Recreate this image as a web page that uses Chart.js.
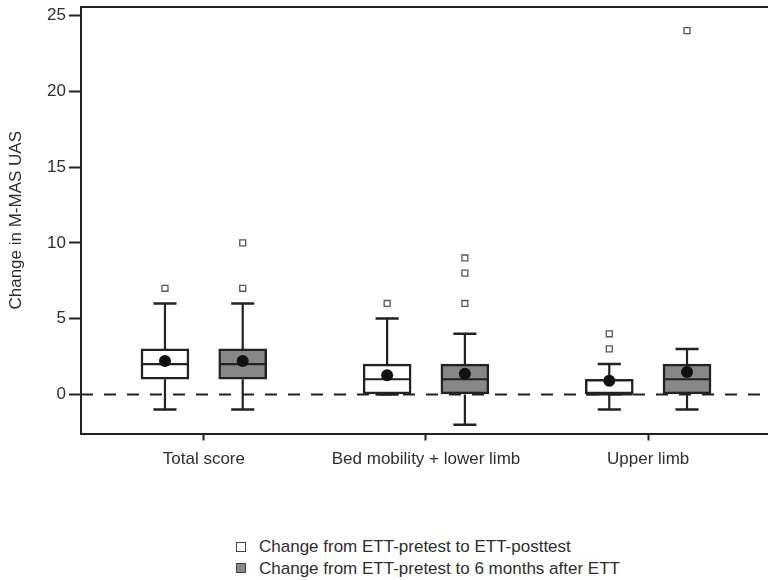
<!DOCTYPE html>
<html>
<head>
<meta charset="utf-8">
<script src="https://cdn.jsdelivr.net/npm/chart.js@4.4.1/dist/chart.umd.min.js"></script>
<style>
  html, body { margin: 0; padding: 0; background: #fff; width: 768px; height: 580px; overflow: hidden; }
  #wrap { position: absolute; left: 0; top: 0; width: 773px; height: 500px; }
  #legend { position: absolute; left: 236px; top: 536px; font-family: 'Liberation Sans', Arial, sans-serif; font-size: 17px; line-height: 21.5px; color: #2e2e2e; }
  .row { display: flex; align-items: center; height: 21.5px; }
  .sw { width: 8px; height: 8px; border: 1.3px solid #444; margin-right: 13px; }
</style>
</head>
<body>
<div id="wrap"><canvas id="chart"></canvas></div>
<div id="legend"></div>
<script>
/* ── data ── */
const categories = ['Total score', 'Bed mobility + lower limb', 'Upper limb'];
const seriesNames = ['Change from ETT-pretest to ETT-posttest', 'Change from ETT-pretest to 6 months after ETT'];
const yTicks = [0, 5, 10, 15, 20, 25];

// ETT-pretest -> ETT-posttest
const postLow    = [-1, 0, -1];
const postQ1     = [1, 0, 0];
const postMedian = [2, 1, 0];
const postQ3     = [3, 2, 1];
const postHigh   = [6, 5, 2];
const postMean   = [2.2, 1.27, 0.9];
const postOut    = [[7], [6], [3, 4]];

// ETT-pretest -> 6 months after ETT
const sixLow    = [-1, -2, -1];
const sixQ1     = [1, 0, 0];
const sixMedian = [2, 1, 1];
const sixQ3     = [3, 2, 2];
const sixHigh   = [6, 4, 3];
const sixMean   = [2.2, 1.36, 1.47];
const sixOut    = [[7, 10], [6, 8, 9], [24]];

/* ── style ── */
const INK = '#222';
const TXT = '#2e2e2e';
const FILLS = ['#ffffff', '#878787'];
const X_MIN = 0.447, X_MAX = 3.535;
const Y_MIN = -2.58, Y_MAX = 25.56;
const OFF = 0.175;     // half distance between the two boxes
const HALF_BOX = 0.105;
const HALF_CAP = 0.052;

Chart.defaults.font.family = "'Liberation Sans', Arial, sans-serif";
Chart.defaults.color = TXT;

const series = [
  { low: postLow, q1: postQ1, med: postMedian, q3: postQ3, high: postHigh, mean: postMean, out: postOut },
  { low: sixLow,  q1: sixQ1,  med: sixMedian,  q3: sixQ3,  high: sixHigh,  mean: sixMean,  out: sixOut  },
];

const datasets = [{
  type: 'line', label: 'zero',
  data: [{ x: X_MIN, y: 0 }, { x: X_MAX, y: 0 }],
  borderColor: INK, borderWidth: 2, borderDash: [12, 11], pointRadius: 0, order: 10,
}];

series.forEach((s, k) => {
  const off = k === 0 ? -OFF : OFF;
  const xs = categories.map((_, i) => i + 1 + off);
  const whisk = [], caps = [], meds = [], means = [], outs = [];
  xs.forEach((x, i) => {
    whisk.push({ x, y: s.q3[i] }, { x, y: s.high[i] }, { x, y: null }, { x, y: s.low[i] }, { x, y: s.q1[i] }, { x, y: null });
    caps.push({ x: x - HALF_CAP, y: s.high[i] }, { x: x + HALF_CAP, y: s.high[i] }, { x, y: null },
              { x: x - HALF_CAP, y: s.low[i] },  { x: x + HALF_CAP, y: s.low[i] },  { x, y: null });
    meds.push({ x: x - HALF_BOX, y: s.med[i] }, { x: x + HALF_BOX, y: s.med[i] }, { x, y: null });
    means.push({ x, y: s.mean[i] });
    s.out[i].forEach(v => outs.push({ x, y: v }));
  });

  datasets.push(
    { type: 'bar', label: seriesNames[k], data: xs.map((x, i) => ({ x, y: [s.q1[i], s.q3[i]] })),
      backgroundColor: FILLS[k], borderColor: INK, borderWidth: 2.5, borderSkipped: false,
      barThickness: 48, grouped: false, order: 5 },
    { type: 'line', data: whisk, borderColor: INK, borderWidth: 2.2, pointRadius: 0, spanGaps: false, order: 6 },
    { type: 'line', data: caps,  borderColor: INK, borderWidth: 2.5, pointRadius: 0, spanGaps: false, order: 6 },
    { type: 'line', data: meds,  borderColor: INK, borderWidth: 2.2, pointRadius: 0, spanGaps: false, order: 3 },
    { type: 'line', data: means, showLine: false, pointRadius: 6, pointBackgroundColor: '#111', pointBorderWidth: 0, order: 1 },
    { type: 'line', data: outs,  showLine: false, pointStyle: 'rect', pointRadius: 4.2,
      pointBackgroundColor: '#fff', pointBorderColor: '#555', pointBorderWidth: 1.3, order: 1 },
  );
});

new Chart(document.getElementById('chart'), {
  type: 'bar',
  data: { datasets },
  options: {
    responsive: true, maintainAspectRatio: false, animation: false,
    layout: { padding: { top: 7, left: 0, right: 0, bottom: 0 } },
    plugins: { legend: { display: false }, tooltip: { enabled: false } },
    scales: {
      x: {
        type: 'linear', min: X_MIN, max: X_MAX, offset: false,
        afterBuildTicks: sc => { sc.ticks = categories.map((_, i) => ({ value: i + 1 })); },
        afterFit: sc => { sc.height = 66.5; sc.paddingLeft = 0; sc.paddingRight = 0; },
        ticks: { callback: v => categories[v - 1], font: { size: 17 }, color: TXT, padding: 9, maxRotation: 0, autoSkip: false },
        grid: { offset: false, drawOnChartArea: false, tickLength: 7, tickWidth: 2, tickColor: INK },
        border: { display: true, color: INK, width: 2 },
      },
      xTop: {
        type: 'linear', position: 'top', min: X_MIN, max: X_MAX, offset: false,
        afterFit: sc => { sc.height = 0; sc.paddingLeft = 0; sc.paddingRight = 0; },
        ticks: { display: false },
        grid: { display: false, drawTicks: false },
        border: { display: true, color: INK, width: 2 },
      },
      y: {
        min: Y_MIN, max: Y_MAX,
        afterBuildTicks: sc => { sc.ticks = yTicks.map(v => ({ value: v })); },
        afterFit: sc => { sc.width = 81; sc.paddingTop = 0; sc.paddingBottom = 0; },
        ticks: { font: { size: 17 }, color: TXT, padding: 3 },
        grid: { drawOnChartArea: false, tickLength: 12, tickWidth: 2, tickColor: INK },
        border: { display: true, color: INK, width: 2 },
        title: { display: true, text: 'Change in M-MAS UAS', font: { size: 17 }, color: TXT, padding: { top: 6.3, bottom: 0 } },
      },
    },
  },
});

/* ── legend below the plot ── */
const legend = document.getElementById('legend');
seriesNames.forEach((name, k) => {
  const row = document.createElement('div');
  row.className = 'row';
  const sw = document.createElement('span');
  sw.className = 'sw';
  sw.style.background = FILLS[k];
  const txt = document.createElement('span');
  txt.textContent = name;
  row.appendChild(sw);
  row.appendChild(txt);
  legend.appendChild(row);
});
</script>
</body>
</html>
